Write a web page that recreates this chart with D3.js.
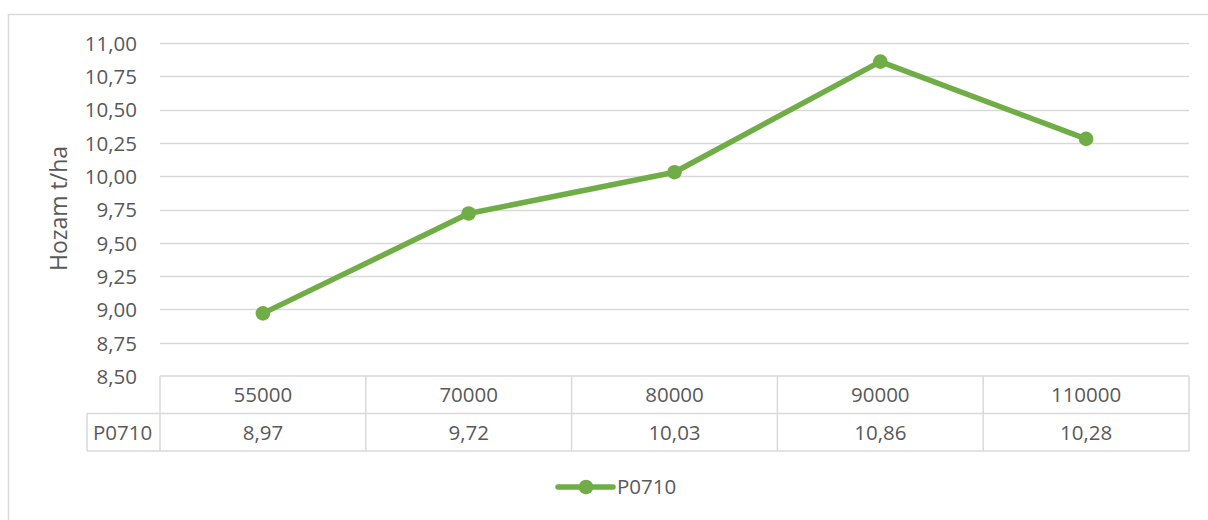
<!DOCTYPE html>
<html>
<head>
<meta charset="utf-8">
<script src="https://cdn.jsdelivr.net/npm/d3@7"></script>
<style>
  html, body { margin: 0; padding: 0; background: #fff; }
  svg text { font-family: "Open Sans", "Noto Sans", sans-serif; fill: #595959; }
</style>
</head>
<body>
<div id="viz"></div>
<script>
// values
var categories = ["55000", "70000", "80000", "90000", "110000"];
var seriesName = "P0710";
var seriesValues = [8.97, 9.72, 10.03, 10.86, 10.28];
var yTicks = [8.5, 8.75, 9, 9.25, 9.5, 9.75, 10, 10.25, 10.5, 10.75, 11];

var W = 1208, H = 520;
var plotLeft = 160, plotRight = 1189, plotTop = 43, plotBottom = 376;
var rowH = 37.5;
var tableLeft = 87;
var green = "#70AD47", grid = "#D9D9D9";
var fs = "20.5px";

var fmt = function(v) { return d3.format(".2f")(v).replace(".", ","); };

var svg = d3.select("#viz").append("svg")
    .attr("width", W).attr("height", H);

// chart border (right/bottom run off the picture)
svg.append("rect")
    .attr("x", 8.5).attr("y", 14.5)
    .attr("width", W + 10).attr("height", H + 10)
    .attr("fill", "none").attr("stroke", grid).attr("stroke-width", 1.5);

var x = d3.scaleBand().domain(categories).range([plotLeft, plotRight]);
var y = d3.scaleLinear().domain([8.5, 11]).range([plotBottom, plotTop]);

// gridlines
svg.append("g").selectAll("line")
    .data(yTicks.filter(function(t) { return t > 8.5; }))
    .join("line")
    .attr("x1", plotLeft).attr("x2", plotRight)
    .attr("y1", function(d) { return Math.round(y(d)) + 0.5; })
    .attr("y2", function(d) { return Math.round(y(d)) + 0.5; })
    .attr("stroke", grid).attr("stroke-width", 1.5);

// y axis labels
var yAxis = svg.append("g")
    .attr("transform", "translate(" + (plotLeft - 23) + ",0)")
    .call(d3.axisLeft(y).tickValues(yTicks).tickFormat(fmt).tickSize(0).tickPadding(0));
yAxis.select(".domain").remove();
yAxis.selectAll("text").style("font-size", fs).attr("dy", "0.36em");

// axis title
svg.append("text")
    .attr("transform", "translate(67," + ((plotTop + plotBottom) / 2 - 1) + ") rotate(-90)")
    .attr("text-anchor", "middle")
    .style("font-size", "23px")
    .text("Hozam t/ha");

// data table
var table = svg.append("g").attr("fill", "none").attr("stroke", grid).attr("stroke-width", 1.5);
table.append("line").attr("x1", plotLeft).attr("x2", plotRight).attr("y1", plotBottom).attr("y2", plotBottom);
table.append("line").attr("x1", tableLeft).attr("x2", plotRight).attr("y1", plotBottom + rowH).attr("y2", plotBottom + rowH);
table.append("line").attr("x1", tableLeft).attr("x2", plotRight).attr("y1", plotBottom + 2 * rowH).attr("y2", plotBottom + 2 * rowH);
table.append("line").attr("x1", tableLeft).attr("x2", tableLeft).attr("y1", plotBottom + rowH).attr("y2", plotBottom + 2 * rowH);
table.selectAll("line.v").data(categories.concat(["end"])).join("line")
    .attr("class", "v")
    .attr("x1", function(d, i) { return plotLeft + i * x.bandwidth(); })
    .attr("x2", function(d, i) { return plotLeft + i * x.bandwidth(); })
    .attr("y1", plotBottom).attr("y2", plotBottom + 2 * rowH);

svg.append("g").selectAll("text").data(categories).join("text")
    .attr("x", function(d) { return x(d) + x.bandwidth() / 2; })
    .attr("y", plotBottom + rowH / 2)
    .attr("dy", "0.36em").attr("text-anchor", "middle")
    .style("font-size", fs)
    .text(function(d) { return d; });

svg.append("g").selectAll("text").data(seriesValues).join("text")
    .attr("x", function(d, i) { return x(categories[i]) + x.bandwidth() / 2; })
    .attr("y", plotBottom + rowH * 1.5)
    .attr("dy", "0.36em").attr("text-anchor", "middle")
    .style("font-size", fs)
    .text(fmt);

svg.append("text")
    .attr("x", (tableLeft + plotLeft) / 2 - 1).attr("y", plotBottom + rowH * 1.5)
    .attr("dy", "0.36em").attr("text-anchor", "middle")
    .style("font-size", fs)
    .text(seriesName);

// series line + markers
var line = d3.line()
    .x(function(d, i) { return x(categories[i]) + x.bandwidth() / 2; })
    .y(function(d) { return y(d); });

svg.append("path").datum(seriesValues)
    .attr("d", line)
    .attr("fill", "none").attr("stroke", green)
    .attr("stroke-width", 5.5).attr("stroke-linejoin", "round").attr("stroke-linecap", "round");

svg.append("g").selectAll("circle").data(seriesValues).join("circle")
    .attr("cx", function(d, i) { return x(categories[i]) + x.bandwidth() / 2; })
    .attr("cy", function(d) { return y(d); })
    .attr("r", 7.3).attr("fill", green);

// legend
var lg = svg.append("g").attr("transform", "translate(558,487)");
lg.append("line").attr("x1", 0).attr("x2", 55).attr("y1", 0).attr("y2", 0)
    .attr("stroke", green).attr("stroke-width", 5.5).attr("stroke-linecap", "round");
lg.append("circle").attr("cx", 28).attr("cy", 0).attr("r", 7.3).attr("fill", green);
lg.append("text").attr("x", 59).attr("y", 0).attr("dy", "0.36em")
    .style("font-size", fs).text(seriesName);
</script>
</body>
</html>
